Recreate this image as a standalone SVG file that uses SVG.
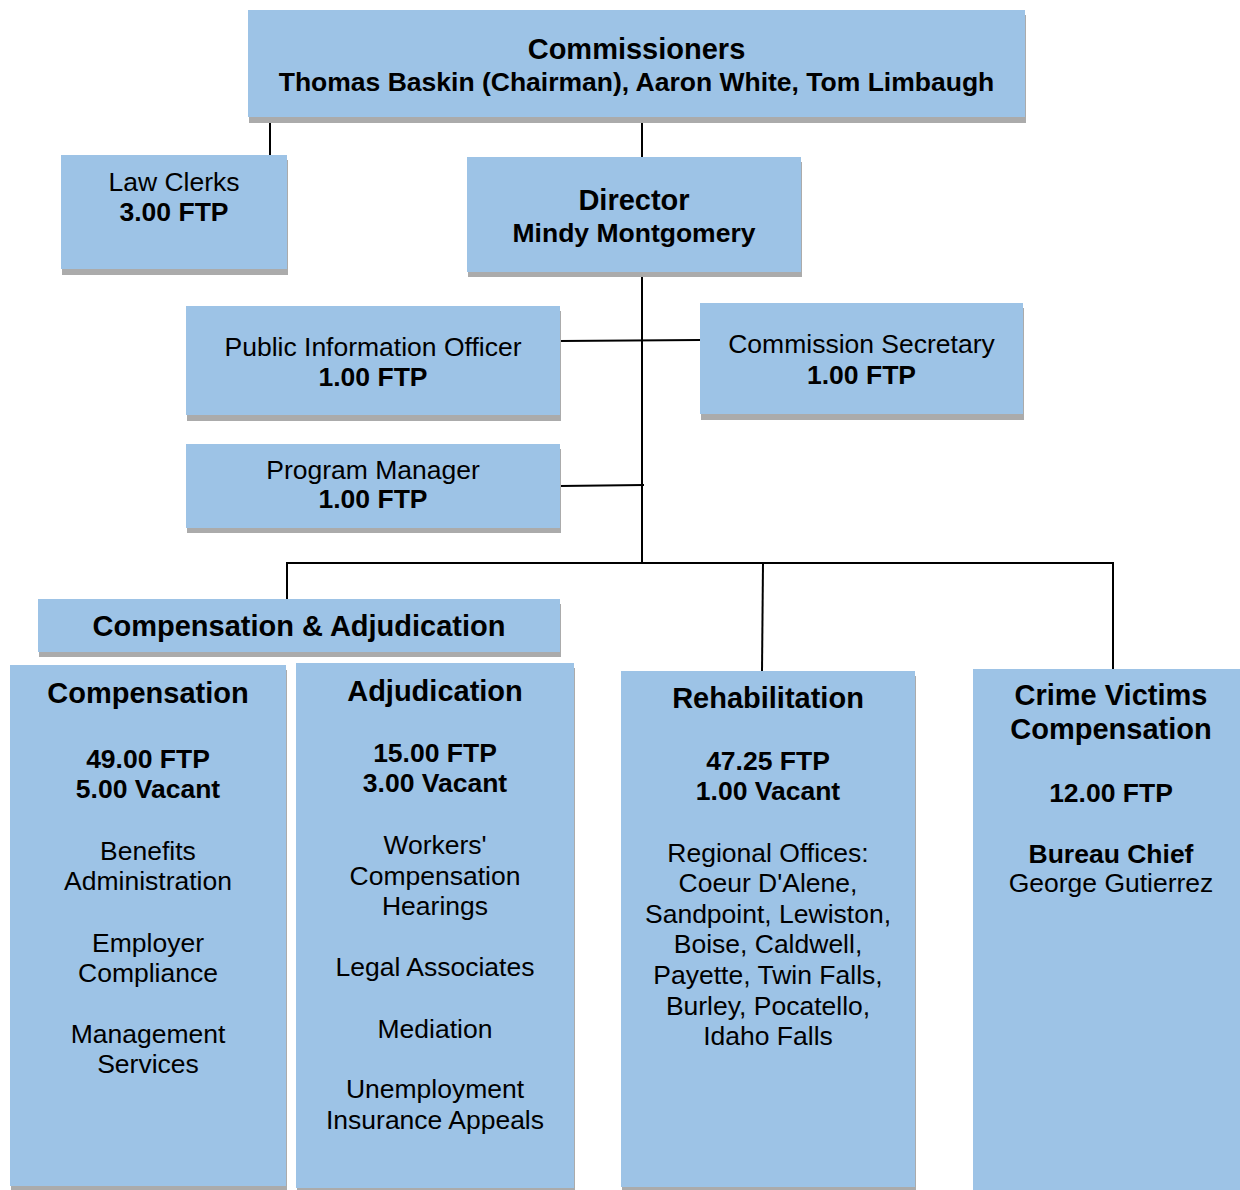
<svg xmlns="http://www.w3.org/2000/svg" width="1240" height="1190" viewBox="0 0 1240 1190">
<style>
.box{fill:#9DC3E6}
.sh{fill:#ABABAB}
text{font-family:"Liberation Sans",Arial,sans-serif;fill:#000;text-anchor:middle}
.t{font-size:29px;font-weight:bold}
.b{font-size:26.5px;font-weight:bold}
.r{font-size:26.5px}
.ln{stroke:#000;stroke-width:2;fill:none}
</style>
<rect width="1240" height="1190" fill="#fff"/>
<g id="connectors">
<line class="ln" x1="270" y1="118" x2="270" y2="155"/>
<line class="ln" x1="642" y1="118" x2="642" y2="157"/>
<line class="ln" x1="642" y1="272" x2="642" y2="563"/>
<line class="ln" x1="560" y1="341" x2="700" y2="340"/>
<line class="ln" x1="560" y1="486" x2="644" y2="485"/>
<line class="ln" x1="286" y1="563" x2="1114" y2="563"/>
<line class="ln" x1="287" y1="563" x2="287" y2="599"/>
<line class="ln" x1="763" y1="563" x2="762" y2="671"/>
<line class="ln" x1="1113" y1="563" x2="1113" y2="669"/>
</g>
<g id="commissioners">
<rect class="sh" x="249" y="15" width="777" height="108"/>
<rect class="box" x="248" y="10" width="777" height="107"/>
<text class="t" x="636.5" y="59">Commissioners</text>
<text class="b" x="636.5" y="91">Thomas Baskin (Chairman), Aaron White, Tom Limbaugh</text>
</g>
<g id="law-clerks">
<rect class="sh" x="62" y="160" width="226" height="115"/>
<rect class="box" x="61" y="155" width="226" height="114"/>
<text class="r" x="174" y="191">Law Clerks</text>
<text class="b" x="174" y="221">3.00 FTP</text>
</g>
<g id="director">
<rect class="sh" x="468" y="162" width="334" height="115"/>
<rect class="box" x="467" y="157" width="334" height="115"/>
<text class="t" x="634" y="210">Director</text>
<text class="b" x="634" y="242">Mindy Montgomery</text>
</g>
<g id="public-information-officer">
<rect class="sh" x="187" y="311" width="374" height="110"/>
<rect class="box" x="186" y="306" width="374" height="109"/>
<text class="r" x="373" y="356">Public Information Officer</text>
<text class="b" x="373" y="386">1.00 FTP</text>
</g>
<g id="commission-secretary">
<rect class="sh" x="701" y="308" width="323" height="112"/>
<rect class="box" x="700" y="303" width="323" height="111"/>
<text class="r" x="861.5" y="353">Commission Secretary</text>
<text class="b" x="861.5" y="384">1.00 FTP</text>
</g>
<g id="program-manager">
<rect class="sh" x="187" y="449" width="374" height="84"/>
<rect class="box" x="186" y="444" width="374" height="84"/>
<text class="r" x="373" y="479">Program Manager</text>
<text class="b" x="373" y="508">1.00 FTP</text>
</g>
<g id="compensation-adjudication">
<rect class="sh" x="39" y="604" width="522" height="53"/>
<rect class="box" x="38" y="599" width="522" height="53"/>
<text class="t" x="299" y="636">Compensation &amp; Adjudication</text>
</g>
<g id="compensation">
<rect class="sh" x="11" y="670" width="276" height="520"/>
<rect class="box" x="10" y="665" width="276" height="521"/>
<text class="t" x="148" y="703">Compensation</text>
<text class="b" x="148" y="768">49.00 FTP</text>
<text class="b" x="148" y="798">5.00 Vacant</text>
<text class="r" x="148" y="860">Benefits</text>
<text class="r" x="148" y="890">Administration</text>
<text class="r" x="148" y="952">Employer</text>
<text class="r" x="148" y="982">Compliance</text>
<text class="r" x="148" y="1043">Management</text>
<text class="r" x="148" y="1073">Services</text>
</g>
<g id="adjudication">
<rect class="sh" x="297" y="668" width="278" height="522"/>
<rect class="box" x="296" y="663" width="278" height="525"/>
<text class="t" x="435" y="701">Adjudication</text>
<text class="b" x="435" y="762">15.00 FTP</text>
<text class="b" x="435" y="792">3.00 Vacant</text>
<text class="r" x="435" y="854">Workers'</text>
<text class="r" x="435" y="885">Compensation</text>
<text class="r" x="435" y="915">Hearings</text>
<text class="r" x="435" y="976">Legal Associates</text>
<text class="r" x="435" y="1038">Mediation</text>
<text class="r" x="435" y="1098">Unemployment</text>
<text class="r" x="435" y="1129">Insurance Appeals</text>
</g>
<g id="rehabilitation">
<rect class="sh" x="622" y="676" width="294" height="514"/>
<rect class="box" x="621" y="671" width="294" height="516"/>
<text class="t" x="768" y="708">Rehabilitation</text>
<text class="b" x="768" y="770">47.25 FTP</text>
<text class="b" x="768" y="800">1.00 Vacant</text>
<text class="r" x="768" y="862">Regional Offices:</text>
<text class="r" x="768" y="892">Coeur D'Alene,</text>
<text class="r" x="768" y="923">Sandpoint, Lewiston,</text>
<text class="r" x="768" y="953">Boise, Caldwell,</text>
<text class="r" x="768" y="984">Payette, Twin Falls,</text>
<text class="r" x="768" y="1015">Burley, Pocatello,</text>
<text class="r" x="768" y="1045">Idaho Falls</text>
</g>
<g id="crime-victims-compensation">
<rect class="box" x="973" y="669" width="267" height="521"/>
<text class="t" x="1111" y="705">Crime Victims</text>
<text class="t" x="1111" y="739">Compensation</text>
<text class="b" x="1111" y="802">12.00 FTP</text>
<text class="b" x="1111" y="863">Bureau Chief</text>
<text class="r" x="1111" y="892">George Gutierrez</text>
</g>
</svg>
